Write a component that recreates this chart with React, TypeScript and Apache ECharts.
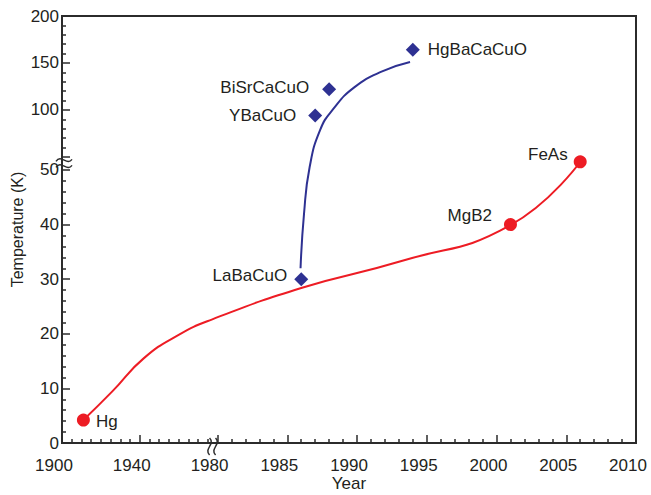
import React, { useEffect, useRef } from "react";
import * as echarts from "echarts";

// ---- data ----
const materialNames = ["Hg", "LaBaCuO", "YBaCuO", "BiSrCaCuO", "HgBaCaCuO", "MgB2", "FeAs"];
const materialYears = [1911, 1986, 1987, 1988, 1994, 2001, 2006];
const materialTc = [4.2, 30, 94, 122, 164, 40, 51.5];
const materialFamily = ["conv", "cuprate", "cuprate", "cuprate", "cuprate", "conv", "conv"];

const redCurveYears = [1911, 1926, 1942, 1960, 1977, 1986, 1993, 2001, 2006];
const redCurveTc = [4.2, 9.5, 15.5, 19.8, 22.6, 28.4, 33.2, 39.9, 51.5];

const blueCurveYears = [1985.95, 1986.2, 1986.6, 1987.35, 1988.3, 1989.8, 1991.8, 1993.8];
const blueCurveTc = [32, 42, 50.5, 78.5, 101, 124, 141, 151];

const xTickYears = [1900, 1940, 1980, 1985, 1990, 1995, 2000, 2005, 2010];
const yTickTemps = [0, 10, 20, 30, 40, 50, 100, 150, 200];

// ---- broken-axis transforms ----
const X_BREAK = 1980;
const X_LOW_SCALE = 0.1394;
const fx = (yr: number) => (yr >= X_BREAK ? yr : X_BREAK - (X_BREAK - yr) * X_LOW_SCALE);
const Y_BREAK = 52;
const fyUpper = (t: number) => 61 + (t - 100) * 0.172;
const fy = (t: number) => (t <= Y_BREAK ? t : fyUpper(t));

const FONT = "'Liberation Sans', Arial, Helvetica, sans-serif";
const TEXT = "#231f20";
const AXIS = "#2b2b2b";
const RED = "#ed1c24";
const BLUE = "#2e3192";

function nearestLabel(v: number, vals: number[], map: (n: number) => number) {
  let best = vals[0];
  let bd = Infinity;
  for (const t of vals) {
    const d = Math.abs(map(t) - v);
    if (d < bd) {
      bd = d;
      best = t;
    }
  }
  return String(best);
}

export default function App() {
  const ref = useRef<HTMLDivElement>(null);
  useEffect(() => {
    if (!ref.current) return;
    document.body.style.margin = "0";
    const chart = echarts.init(ref.current, null, { renderer: "svg" });

    const xMin = fx(1900);
    const xMax = 2010;
    const yMin = 0;
    const yMax = fy(200);

    const majorX: number[] = [];
    const minorX: number[] = [];
    for (let y = 1900; y < 1980; y += 5) {
      if (xTickYears.includes(y)) majorX.push(fx(y));
      else minorX.push(fx(y));
    }
    for (let y = 1980; y <= 2010; y++) {
      if (y % 5 === 0) majorX.push(fx(y));
      else minorX.push(fx(y));
    }
    const majorY: number[] = yTickTemps.map(fy).concat([fyUpper(50)]);
    const minorY: number[] = [];
    for (let t = 2; t < 50; t += 2) if (t % 10 !== 0) minorY.push(fy(t));
    for (let t = 60; t < 200; t += 10) if (t % 50 !== 0) minorY.push(fyUpper(t));

    const labelStyle = { fontFamily: FONT, fontSize: 17, color: TEXT };

    const labelCfg: any = {
      Hg: { position: "right", distance: 6, offset: [0, 1] },
      LaBaCuO: { position: "left", distance: 7, offset: [0, -4] },
      YBaCuO: { position: "left", distance: 12, offset: [0, 0] },
      BiSrCaCuO: { position: "left", distance: 13, offset: [0, -2] },
      HgBaCaCuO: { position: "right", distance: 8, offset: [0, 0] },
      MgB2: { position: "left", distance: 12, offset: [0, -9] },
      FeAs: { position: "left", distance: 6, offset: [0, -7] },
    };

    const pointsOf = (fam: string) =>
      materialNames
        .map((n, i) => ({ n, i }))
        .filter(({ i }) => materialFamily[i] === fam)
        .map(({ n, i }) => ({
          name: n,
          value: [fx(materialYears[i]), fy(materialTc[i])],
          label: labelCfg[n],
        }));

    const option: any = {
      animation: false,
      grid: {
        left: 62,
        right: 15,
        top: 16,
        bottom: 52,
        show: true,
        borderColor: AXIS,
        borderWidth: 2,
        backgroundColor: "transparent",
        containLabel: false,
        outerBoundsMode: "none",
      },
      xAxis: [
        {
          type: "value",
          position: "bottom",
          min: xMin,
          max: xMax,
          axisLine: { show: true, lineStyle: { color: AXIS, width: 2 } },
          splitLine: { show: false },
          axisTick: { show: true, inside: true, length: 8, customValues: majorX, lineStyle: { color: AXIS, width: 1.5 } },
          axisLabel: {
            ...labelStyle,
            customValues: xTickYears.map(fx),
            formatter: (v: number) => "{t|" + nearestLabel(v, xTickYears, fx) + "}{s|}",
            rich: { t: { ...labelStyle }, s: { width: 16 } },
            margin: 14,
            showMinLabel: true,
            showMaxLabel: true,
            hideOverlap: false,
          },
          name: "Year",
          nameLocation: "middle",
          nameGap: 32,
          nameMoveOverlap: false,
          nameTextStyle: { fontFamily: FONT, fontSize: 17, color: TEXT, lineHeight: 17 },
        },
        {
          type: "value",
          position: "bottom",
          min: xMin,
          max: xMax,
          axisLine: { show: false },
          splitLine: { show: false },
          axisTick: { show: true, inside: true, length: 4, customValues: minorX, lineStyle: { color: AXIS, width: 1.5 } },
          axisLabel: { show: false },
        },
      ],
      yAxis: [
        {
          type: "value",
          position: "left",
          min: yMin,
          max: yMax,
          axisLine: { show: true, lineStyle: { color: AXIS, width: 2 } },
          splitLine: { show: false },
          axisTick: { show: true, inside: true, length: 8, customValues: majorY, lineStyle: { color: AXIS, width: 1.5 } },
          axisLabel: {
            ...labelStyle,
            customValues: yTickTemps.map(fy),
            formatter: (v: number) => nearestLabel(v, yTickTemps, fy),
            margin: 3,
            showMinLabel: true,
            showMaxLabel: true,
            hideOverlap: false,
          },
          name: "Temperature (K)",
          nameLocation: "middle",
          nameGap: 37,
          nameMoveOverlap: false,
          nameTextStyle: { fontFamily: FONT, fontSize: 16, color: TEXT },
        },
        {
          type: "value",
          position: "left",
          min: yMin,
          max: yMax,
          axisLine: { show: false },
          splitLine: { show: false },
          axisTick: { show: true, inside: true, length: 4, customValues: minorY, lineStyle: { color: AXIS, width: 1.5 } },
          axisLabel: { show: false },
        },
      ],
      series: [
        {
          type: "line",
          xAxisIndex: 0,
          yAxisIndex: 0,
          data: redCurveYears.map((y, i) => [fx(y), fy(redCurveTc[i])]),
          smooth: 0.5,
          symbol: "none",
          lineStyle: { color: RED, width: 2 },
          z: 2,
        },
        {
          type: "line",
          xAxisIndex: 0,
          yAxisIndex: 0,
          data: blueCurveYears.map((y, i) => [fx(y), fy(blueCurveTc[i])]),
          smooth: 0.5,
          symbol: "none",
          lineStyle: { color: BLUE, width: 2 },
          z: 2,
        },
        {
          type: "scatter",
          xAxisIndex: 0,
          yAxisIndex: 0,
          data: pointsOf("conv"),
          symbol: "circle",
          symbolSize: 13,
          itemStyle: { color: RED, opacity: 1 },
          label: { show: true, formatter: "{b}", ...labelStyle },
          z: 3,
        },
        {
          type: "scatter",
          xAxisIndex: 0,
          yAxisIndex: 0,
          data: pointsOf("cuprate"),
          symbol: "diamond",
          symbolSize: 14,
          itemStyle: { color: BLUE, opacity: 1 },
          label: { show: true, formatter: "{b}", ...labelStyle },
          z: 3,
        },
      ],
    };
    chart.setOption(option);

    // break marks
    const bx = (chart.convertToPixel({ xAxisIndex: 0 }, fx(1980)) as number) - 5;
    const by0 = chart.convertToPixel({ yAxisIndex: 0 }, fy(50)) as number;
    const by1 = chart.convertToPixel({ yAxisIndex: 0 }, fyUpper(50)) as number;
    const byMid = (by0 + by1) / 2;
    const ax = chart.convertToPixel({ xAxisIndex: 0 }, xMin) as number;
    const ay = chart.convertToPixel({ yAxisIndex: 0 }, 0) as number;
    const wiggleV = (x: number) => ({
      type: "bezierCurve",
      shape: { x1: x, y1: ay - 5, x2: x, y2: ay + 12, cpx1: x + 6, cpy1: ay + 1, cpx2: x - 6, cpy2: ay + 6 },
      style: { stroke: AXIS, lineWidth: 1.5, fill: "none" },
      z: 10,
    });
    const wiggleH = (y: number) => ({
      type: "bezierCurve",
      shape: { x1: ax - 6, y1: y + 1, x2: ax + 10, y2: y - 1, cpx1: ax - 1, cpy1: y - 7, cpx2: ax + 5, cpy2: y + 6 },
      style: { stroke: AXIS, lineWidth: 1.5, fill: "none" },
      z: 10,
    });
    chart.setOption({
      graphic: [wiggleV(bx - 3), wiggleV(bx + 3), wiggleH(byMid - 3), wiggleH(byMid + 3)],
    });

    return () => chart.dispose();
  }, []);
  return <div ref={ref} style={{ width: 651, height: 495 }} />;
}
